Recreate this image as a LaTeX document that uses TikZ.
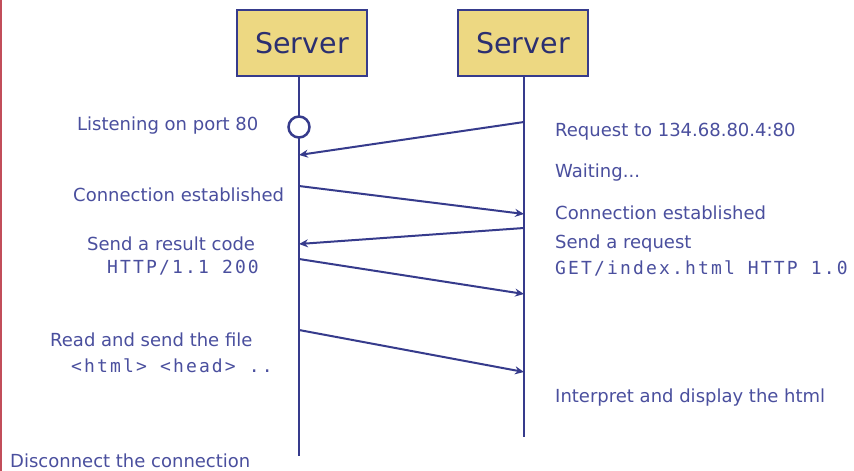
\documentclass[tikz,border=0pt]{standalone}
\usepackage{fontspec}
\setmainfont{DejaVu Sans}
\newfontfamily\monofnt[LetterSpace=12]{DejaVu Sans Mono}
\usetikzlibrary{arrows.meta}
\definecolor{navy}{HTML}{363B8C}
\definecolor{txtc}{HTML}{4A4F9E}
\definecolor{boxfill}{HTML}{EDD882}
\definecolor{edge}{HTML}{C24E5A}
\tikzset{
  srv/.style={draw=navy, line width=2.5pt, fill=boxfill, minimum width=130pt, minimum height=66pt, inner sep=0pt, font=\fontsize{28.5}{30}\selectfont, text=navy!80!black},
  lbl/.style={inner sep=0pt, anchor=west, text=txtc, font=\fontsize{18}{20}\selectfont},
  mono/.style={inner sep=0pt, anchor=west, text=txtc, font=\monofnt\fontsize{18}{20}\selectfont},
  life/.style={draw=navy, line width=2pt},
  msg/.style={draw=navy, line width=2pt, -{Stealth[length=9pt,width=8pt]}},
}
\begin{document}
\begin{tikzpicture}[x=1pt,y=-1pt]
\useasboundingbox (0,0) rectangle (854,471);
\fill[white] (0,0) rectangle (854,471);
\draw[edge, line width=1.5pt] (0.75,0) -- (0.75,471);
\node[srv] (s1) at (302,43) {Server};
\node[srv] (s2) at (523,43) {Server};
\coordinate (e1) at (299,456);
\coordinate (e2) at (524,437);
\draw[life] (s1.south -| e1) -- (e1);
\draw[life] (s2.south -| e2) -- (e2);
\node[draw=navy, line width=2.5pt, fill=white, circle, minimum size=21pt, inner sep=0pt] (lis) at (299,127) {};
% message end points
\coordinate (a1) at (524,122); \coordinate (b1) at (299,155);
\coordinate (a2) at (299,186); \coordinate (b2) at (524,214);
\coordinate (a3) at (524,228); \coordinate (b3) at (299,244);
\coordinate (a4) at (299,259); \coordinate (b4) at (524,294);
\coordinate (a5) at (299,330); \coordinate (b5) at (524,372);
\draw[msg] (a1) -- (b1);
\draw[msg] (a2) -- (b2);
\draw[msg] (a3) -- (b3);
\draw[msg] (a4) -- (b4);
\draw[msg] (a5) -- (b5);
% left labels
\node[lbl] (l1) at (77,126) {Listening on port 80};
\node[lbl] (l2) at (73,195) {Connection established};
\node[lbl] (l3) at (87,244) {Send a result code};
\node[mono] (l4) at (107,268) {HTTP/1.1 200};
\node[lbl] (l5) at (50,340) {Read and send the file};
\node[mono] (l6) at (71,366) {<html> <head> ..};
\node[lbl] (l7) at (10,461) {Disconnect the connection};
% right labels
\node[lbl] (r1) at (555,132) {Request to 134.68.80.4:80};
\node[lbl] (r2) at (555,173) {Waiting...};
\node[lbl] (r3) at (555,213) {Connection established};
\node[lbl] (r4) at (555,244) {Send a request};
\node[mono] (r5) at (555,268) {GET/index.html HTTP 1.0};
\node[lbl] (r6) at (555,398) {Interpret and display the html};
\end{tikzpicture}
\end{document}
